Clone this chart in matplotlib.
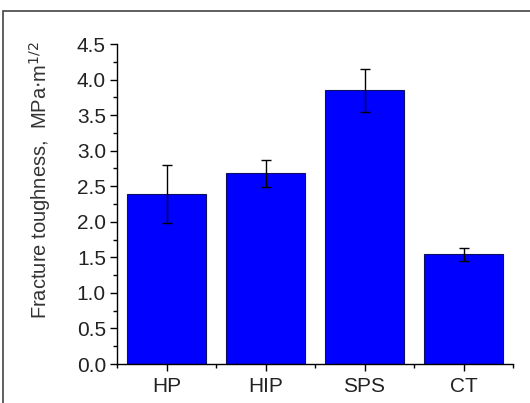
import matplotlib.pyplot as plt
from matplotlib.patches import Rectangle
from matplotlib.ticker import MultipleLocator

plt.rcParams['font.family'] = ['Liberation Sans', 'DejaVu Sans']

methods = ["HP", "HIP", "SPS", "CT"]
toughness = [2.39, 2.68, 3.85, 1.54]   # MPa*m^1/2
errors = [0.41, 0.19, 0.30, 0.09]

fig = plt.figure(figsize=(5.3, 4.03), dpi=100)
ax = fig.add_axes([117/530, 1 - 364/403, 396/530, 320/403])

x = range(len(methods))
ax.bar(x, toughness, width=0.8, color="#0000ff", edgecolor="#101060", linewidth=0.8,
       yerr=errors, error_kw=dict(ecolor="black", elinewidth=1, capsize=3.5, capthick=1))

ax.set_xlim(-0.5, 3.5)
ax.set_ylim(0, 4.5)
ax.set_xticks(list(x))
ax.set_xticklabels(methods)
ax.xaxis.set_minor_locator(MultipleLocator(1, offset=0.5))
ax.yaxis.set_major_locator(MultipleLocator(0.5))
ax.yaxis.set_minor_locator(MultipleLocator(0.25))
ax.yaxis.set_major_formatter(lambda v, p: f"{v:.1f}")

for s in ["top", "right"]:
    ax.spines[s].set_visible(False)
for s in ["left", "bottom"]:
    ax.spines[s].set_linewidth(1.0)

ax.tick_params(axis="both", which="major", direction="out", length=5, width=1,
               labelsize=15, colors="black", labelcolor="#222222")
ax.tick_params(axis="both", which="minor", direction="out", length=3, width=1)
ax.tick_params(axis="x", which="major", pad=4)
ax.tick_params(axis="y", which="major", pad=3)

# y label, sits a bit above centre in the original
fig.text(40/530, 1 - 180/403, "Fracture toughness,  MPa$\\cdot$m$^{1/2}$",
         rotation=90, ha="center", va="center", fontsize=14.5, color="#333333")

# thin frame around the figure
fig.patches.append(Rectangle((3/530, -0.1), 1.2, 1.1 - 11/403, transform=fig.transFigure,
                             fill=False, edgecolor="#444444", linewidth=1.2))

fig.savefig("out.png", dpi=100)
